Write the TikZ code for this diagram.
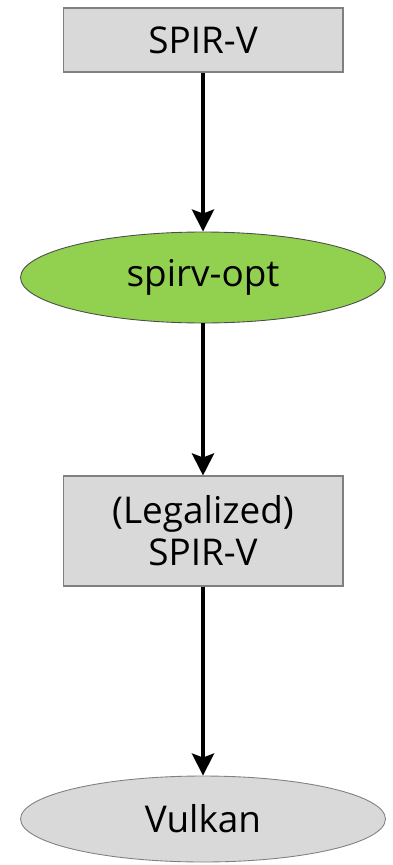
\documentclass[tikz,border=0pt]{standalone}
\usepackage{fontspec}
\setmainfont{Open Sans}
\usetikzlibrary{shapes.geometric,arrows.meta}

\definecolor{boxgray}{HTML}{D9D9D9}
\definecolor{optgreen}{HTML}{92D050}

\begin{document}
\begin{tikzpicture}[x=0.02cm, y=-0.02cm,
  every node/.style={font=\fontsize{21}{24}\selectfont, text=black, align=center, inner sep=0pt},
  irbox/.style={rectangle, draw=black!50, fill=boxgray, line width=0.6pt, minimum width=5.6cm},
  tool/.style={ellipse, draw=black!70, line width=0.5pt, minimum width=7.3cm},
  flow/.style={-{Stealth[length=0.44cm, width=0.44cm, inset=0.08cm]}, line width=2.4pt}]

\useasboundingbox (0,0) rectangle (392,865);

% boxes and tools
\node[irbox, minimum height=1.28cm] (spirv) at (203,40) {SPIR-V};
\node[tool, fill=optgreen, minimum height=1.82cm] (opt) at (203,277.5) {spirv-opt};
\node[irbox, minimum height=2.2cm] (legal) at (203,531) {(Legalized)\\SPIR-V};
\node[tool, draw=black!50, fill=boxgray, minimum height=1.72cm] (vulkan) at (203,819) {Vulkan};

% flow
\draw[flow] (spirv) -- (opt);
\draw[flow] (opt) -- (legal);
\draw[flow] (legal) -- (vulkan);
\end{tikzpicture}
\end{document}
